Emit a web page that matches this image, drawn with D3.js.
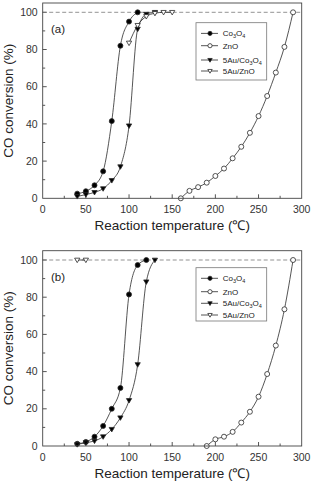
<!DOCTYPE html>
<html>
<head>
<meta charset="utf-8">
<script src="https://cdn.jsdelivr.net/npm/d3@7"></script>
<style>
  body { margin: 0; background: #fff; }
  svg { display: block; font-family: "Liberation Sans", Arial, sans-serif; }
</style>
</head>
<body>
<svg id="chart" width="313" height="485"></svg>
<script>
// panel (a)
var tempA_co3o4 = [40, 50, 60, 70, 80, 90, 100, 110];
var convA_co3o4 = [2.5, 3.8, 7, 14.5, 41.5, 82, 95, 100];
var tempA_zno = [160, 170, 180, 190, 200, 210, 220, 230, 240, 250, 260, 270, 280, 290];
var convA_zno = [0, 4, 6, 8.4, 12, 16, 21.5, 27.7, 35.2, 44.2, 55, 67.6, 81.4, 100];
var tempA_auco = [40, 50, 60, 70, 80, 90, 100, 110, 120, 130];
var convA_auco = [1, 2, 3.2, 5.2, 9.6, 17, 39, 91, 99, 100];
var tempA_auzno = [100, 110, 120, 130, 140, 150];
var convA_auzno = [83.5, 93, 97.8, 99.5, 100, 100];

// panel (b)
var tempB_co3o4 = [40, 50, 60, 70, 80, 90, 100, 110, 120];
var convB_co3o4 = [1.2, 2.2, 5, 10.8, 20, 31.2, 81.5, 97.3, 100];
var tempB_zno = [190, 200, 210, 220, 230, 240, 250, 260, 270, 280, 290];
var convB_zno = [0, 3.6, 5, 7.6, 12.6, 18.4, 26.5, 38.7, 54, 73.5, 100];
var tempB_auco = [40, 50, 60, 70, 80, 90, 100, 110, 120, 130];
var convB_auco = [0.8, 1.8, 2.7, 5, 9, 15.2, 24.5, 43.8, 88.3, 100];
var tempB_auzno = [40, 50];
var convB_auzno = [100, 100];

var xTicks = [0, 50, 100, 150, 200, 250, 300];
var yTicks = [0, 20, 40, 60, 80, 100];

var seriesNames = [
  [["Co", ""], ["3", "sub"], ["O", ""], ["4", "sub"]],
  [["ZnO", ""]],
  [["5Au/Co", ""], ["3", "sub"], ["O", ""], ["4", "sub"]],
  [["5Au/ZnO", ""]]
];
var markerKinds = ["dot", "circle", "tri", "otri"];

function zip(xs, ys) {
  return xs.map(function (x, i) { return { t: x, c: ys[i] }; });
}

var svg = d3.select("#chart");
var ink = "#2a2a2a";

function drawMarker(sel, kind, r) {
  if (kind === "dot" || kind === "circle") {
    sel.append("circle").attr("r", r)
      .attr("fill", kind === "dot" ? "#000" : "#fff")
      .attr("stroke", ink).attr("stroke-width", 0.8);
  } else {
    var s = r * 1.05;
    sel.append("path")
      .attr("d", "M" + (-s) + "," + (-s * 0.7) + "L" + s + "," + (-s * 0.7) + "L0," + (s * 1.0) + "Z")
      .attr("fill", kind === "tri" ? "#000" : "#fff")
      .attr("stroke", ink).attr("stroke-width", 0.8);
  }
}

function drawPanel(opts) {
  var x = d3.scaleLinear().domain([0, 300]).range([42.7, 301.7]);
  var y = d3.scaleLinear().domain([0, 105]).range([opts.bottom, opts.bottom - 105 * 1.86]);
  var g = svg.append("g");
  var top = y(105), bot = y(0);

  // ticks, inside
  var minorX = d3.range(25, 300, 50);
  var minorY = d3.range(10, 105, 20);
  g.selectAll(".xt").data(xTicks.slice(1, -1)).enter().append("line")
    .attr("x1", x).attr("x2", x).attr("y1", bot).attr("y2", bot - 4)
    .attr("stroke", ink).attr("stroke-width", 0.8);
  g.selectAll(".xm").data(minorX).enter().append("line")
    .attr("x1", x).attr("x2", x).attr("y1", bot).attr("y2", bot - 2.5)
    .attr("stroke", ink).attr("stroke-width", 0.8);
  g.selectAll(".yt").data(yTicks.slice(1)).enter().append("line")
    .attr("x1", x(0)).attr("x2", x(0) + 4).attr("y1", y).attr("y2", y)
    .attr("stroke", ink).attr("stroke-width", 0.8);
  g.selectAll(".ym").data(minorY).enter().append("line")
    .attr("x1", x(0)).attr("x2", x(0) + 2.5).attr("y1", y).attr("y2", y)
    .attr("stroke", ink).attr("stroke-width", 0.8);

  // tick labels
  g.selectAll(".xl").data(xTicks).enter().append("text")
    .attr("x", x).attr("y", bot + 15).attr("text-anchor", "middle")
    .attr("font-size", 10.5).attr("fill", "#333").text(String);
  g.selectAll(".yl").data(yTicks).enter().append("text")
    .attr("x", x(0) - 5).attr("y", y).attr("dy", "0.35em").attr("text-anchor", "end")
    .attr("font-size", 10.5).attr("fill", "#333").text(String);

  // dashed 100% line
  g.append("line").attr("x1", x(0)).attr("x2", x(300)).attr("y1", y(100)).attr("y2", y(100))
    .attr("stroke", "#777").attr("stroke-width", 0.8).attr("stroke-dasharray", "4,2.5");

  var line = d3.line().x(function (d) { return x(d.t); }).y(function (d) { return y(d.c); })
    .curve(d3.curveMonotoneX);

  opts.series.forEach(function (s, i) {
    g.append("path").datum(s).attr("d", line).attr("fill", "none")
      .attr("stroke", ink).attr("stroke-width", 0.8);
  });
  opts.series.forEach(function (s, i) {
    g.selectAll(".m" + i).data(s).enter().append("g")
      .attr("transform", function (d) { return "translate(" + x(d.t) + "," + y(d.c) + ")"; })
      .each(function () { drawMarker(d3.select(this), markerKinds[i], 2.5); });
  });

  // frame
  g.append("rect").attr("x", x(0)).attr("y", top).attr("width", x(300) - x(0)).attr("height", bot - top)
    .attr("fill", "none").attr("stroke", "#444").attr("stroke-width", 0.9);

  // panel label
  g.append("text").attr("x", 51).attr("y", y(100) + 21).attr("font-size", 11.5)
    .attr("fill", "#222").text(opts.label);

  // legend
  var lg = g.append("g").attr("transform", "translate(196," + opts.legendTop + ")");
  lg.append("rect").attr("width", 70.7).attr("height", opts.legendH)
    .attr("fill", "#fff").attr("stroke", "#777").attr("stroke-width", 0.8);
  seriesNames.forEach(function (parts, i) {
    var yy = opts.legendRows[i];
    var row = lg.append("g").attr("transform", "translate(0," + yy + ")");
    row.append("line").attr("x1", 5).attr("x2", 22).attr("stroke", ink).attr("stroke-width", 0.8);
    drawMarker(row.append("g").attr("transform", "translate(14,0)"), markerKinds[i], 2.1);
    var t = row.append("text").attr("x", 26.7).attr("dy", "0.35em").attr("font-size", 8).attr("fill", "#222");
    parts.forEach(function (p) {
      var ts = t.append("tspan").text(p[0]);
      if (p[1] === "sub") ts.attr("font-size", 5.5).attr("dy", 2);
      else if (t.selectAll("tspan").size() > 1) ts.attr("dy", -2);
    });
  });

  // axis titles
  g.append("text").attr("transform", "translate(13," + ((top + bot) / 2) + ") rotate(-90)")
    .attr("text-anchor", "middle").attr("font-size", 13.5).attr("fill", "#222")
    .text("CO conversion (%)");
  g.append("text").attr("x", (x(0) + x(300)) / 2).attr("y", bot + 32)
    .attr("text-anchor", "middle").attr("font-size", 13.5).attr("fill", "#222")
    .text("Reaction temperature (\u2103)");
}

drawPanel({
  bottom: 198.3,
  label: "(a)",
  legendTop: 22.7, legendH: 57.3,
  legendRows: [10.7, 23, 37.3, 48.3],
  series: [zip(tempA_co3o4, convA_co3o4), zip(tempA_zno, convA_zno),
           zip(tempA_auco, convA_auco), zip(tempA_auzno, convA_auzno)]
});

drawPanel({
  bottom: 446,
  label: "(b)",
  legendTop: 267.7, legendH: 53.3,
  legendRows: [10.6, 24, 35.6, 47.3],
  series: [zip(tempB_co3o4, convB_co3o4), zip(tempB_zno, convB_zno),
           zip(tempB_auco, convB_auco), zip(tempB_auzno, convB_auzno)]
});
</script>
</body>
</html>
